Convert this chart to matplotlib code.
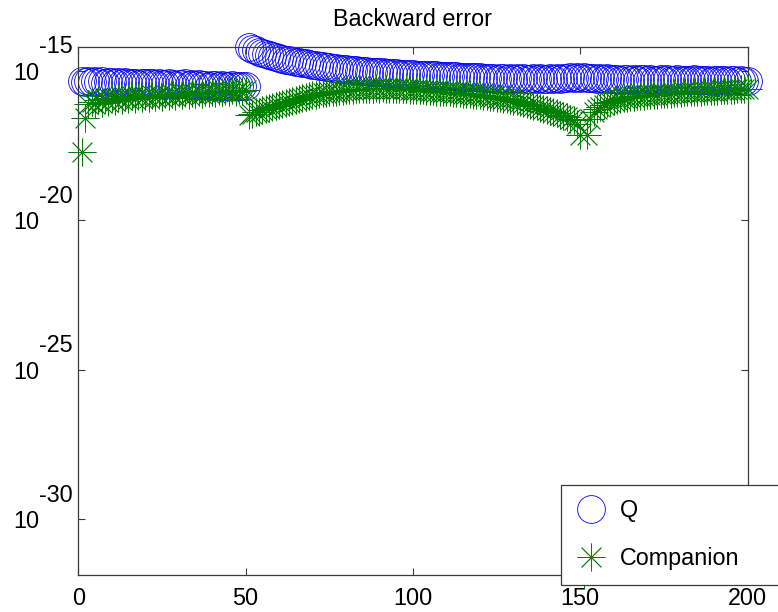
import numpy as np
import matplotlib
matplotlib.use("Agg")
import matplotlib.pyplot as plt
from matplotlib.ticker import FixedLocator, FuncFormatter, NullLocator

plt.rcParams['font.family'] = ['Liberation Sans', 'DejaVu Sans']

title = "Backward error"
series_names = ["Q", "Companion"]

# polynomial degree / test index
n = np.arange(1, 201)

# log10 of the backward error, Q-based method
q_log10 = [
    -15.35, -15.37, -15.34, -15.38, -15.36, -15.39, -15.35, -15.40, -15.37, -15.38,
    -15.41, -15.38, -15.42, -15.39, -15.40, -15.43, -15.41, -15.44, -15.40, -15.42,
    -15.43, -15.41, -15.45, -15.42, -15.44, -15.46, -15.43, -15.45, -15.47, -15.44,
    -15.46, -15.43, -15.47, -15.45, -15.48, -15.46, -15.49, -15.47, -15.50, -15.48,
    -15.49, -15.51, -15.48, -15.50, -15.52, -15.49, -15.51, -15.53, -15.50, -15.52,
    -14.21, -14.27, -14.32, -14.37, -14.41, -14.45, -14.48, -14.52, -14.55, -14.58,
    -14.61, -14.64, -14.66, -14.68, -14.70, -14.72, -14.74, -14.76, -14.78, -14.80,
    -14.82, -14.84, -14.86, -14.88, -14.89, -14.91, -14.92, -14.94, -14.95, -14.96,
    -14.97, -14.98, -14.99, -15.00, -15.01, -15.02, -15.03, -15.04, -15.05, -15.06,
    -15.06, -15.07, -15.08, -15.08, -15.09, -15.10, -15.10, -15.11, -15.12, -15.12,
    -15.13, -15.13, -15.14, -15.15, -15.15, -15.16, -15.16, -15.17, -15.17, -15.18,
    -15.18, -15.19, -15.19, -15.20, -15.20, -15.21, -15.21, -15.22, -15.22, -15.23,
    -15.24, -15.26, -15.25, -15.24, -15.27, -15.25, -15.26, -15.28, -15.25, -15.27,
    -15.26, -15.28, -15.25, -15.27, -15.29, -15.26, -15.28, -15.25, -15.27, -15.28,
    -15.26, -15.28, -15.25, -15.27, -15.24, -15.26, -15.23, -15.25, -15.22, -15.24,
    -15.23, -15.25, -15.24, -15.26, -15.27, -15.25, -15.28, -15.26, -15.29, -15.27,
    -15.28, -15.30, -15.27, -15.29, -15.31, -15.28, -15.30, -15.27, -15.29, -15.31,
    -15.28, -15.30, -15.32, -15.29, -15.31, -15.28, -15.30, -15.32, -15.29, -15.31,
    -15.33, -15.30, -15.32, -15.29, -15.31, -15.33, -15.30, -15.32, -15.34, -15.31,
    -15.33, -15.30, -15.32, -15.34, -15.31, -15.33, -15.35, -15.32, -15.34, -15.36,
]

# log10 of the backward error, companion matrix method
companion_log10 = [
    -17.73, -16.60, -16.10, -16.05, -16.12, -15.98, -16.08, -15.95, -16.04, -15.92,
    -16.02, -15.90, -15.99, -15.88, -15.96, -15.86, -15.94, -15.85, -15.92, -15.84,
    -15.90, -15.82, -15.89, -15.80, -15.87, -15.79, -15.85, -15.77, -15.84, -15.76,
    -15.82, -15.75, -15.81, -15.74, -15.79, -15.72, -15.78, -15.71, -15.76, -15.70,
    -15.75, -15.68, -15.73, -15.67, -15.72, -15.66, -15.70, -15.65, -15.68, -15.64,
    -16.49, -16.45, -16.40, -16.38, -16.33, -16.30, -16.26, -16.22, -16.19, -16.15,
    -16.12, -16.08, -16.05, -16.01, -15.98, -15.95, -15.91, -15.88, -15.85, -15.82,
    -15.80, -15.78, -15.76, -15.74, -15.73, -15.71, -15.70, -15.68, -15.67, -15.66,
    -15.65, -15.64, -15.63, -15.62, -15.62, -15.61, -15.60, -15.60, -15.59, -15.60,
    -15.59, -15.60, -15.61, -15.60, -15.61, -15.62, -15.62, -15.63, -15.64, -15.64,
    -15.65, -15.66, -15.66, -15.67, -15.68, -15.69, -15.70, -15.71, -15.72, -15.73,
    -15.73, -15.74, -15.75, -15.76, -15.77, -15.78, -15.79, -15.80, -15.81, -15.82,
    -15.84, -15.85, -15.87, -15.88, -15.90, -15.92, -15.94, -15.96, -15.98, -16.00,
    -16.03, -16.05, -16.08, -16.11, -16.14, -16.17, -16.20, -16.24, -16.27, -16.31,
    -16.35, -16.39, -16.43, -16.47, -16.52, -16.56, -16.61, -16.66, -16.80, -17.16,
    -31.86, -17.16, -16.62, -16.40, -16.30, -16.22, -16.15, -16.08, -16.04, -16.00,
    -15.97, -15.95, -15.93, -15.91, -15.89, -15.88, -15.86, -15.85, -15.84, -15.83,
    -15.82, -15.81, -15.80, -15.79, -15.78, -15.77, -15.77, -15.76, -15.75, -15.74,
    -15.73, -15.73, -15.72, -15.71, -15.71, -15.70, -15.69, -15.69, -15.68, -15.67,
    -15.67, -15.66, -15.66, -15.65, -15.65, -15.64, -15.63, -15.63, -15.62, -15.61,
]

x_ticks = [0, 50, 100, 150, 200]
y_tick_exponents = [-30, -25, -20, -15]

q_err = 10.0 ** np.array(q_log10)
comp_err = 10.0 ** np.array(companion_log10)

FS = 16.8

fig = plt.figure(figsize=(7.78, 6.12), dpi=100)
ax = fig.add_axes([0.1006, 0.0610, 0.8602, 0.8622])

ax.plot(n, q_err, linestyle='none', marker='o', markersize=20,
        markerfacecolor='none', markeredgecolor=(0, 0, 1), markeredgewidth=0.6,
        clip_on=False, label=series_names[0], zorder=2)
ax.plot(n, comp_err, linestyle='none', marker=(8, 2, 0), markersize=20,
        markeredgecolor=(0, 0.5, 0), markeredgewidth=0.6,
        clip_on=False, label=series_names[1], zorder=3)

ax.set_yscale('log')
ax.set_xlim(0, 200)
ax.set_ylim(comp_err.min(), q_err.max())

ax.xaxis.set_major_locator(FixedLocator(x_ticks))
ax.yaxis.set_major_locator(FixedLocator([10.0 ** e for e in y_tick_exponents]))
ax.yaxis.set_minor_locator(NullLocator())
ax.xaxis.set_minor_locator(NullLocator())
ax.yaxis.set_major_formatter(FuncFormatter(lambda v, p: "10"))

spine_color = '#3a3a3a'
for s in ax.spines.values():
    s.set_color(spine_color)
    s.set_linewidth(0.9)

ax.tick_params(axis='both', which='major', direction='in', length=5, width=0.8,
               color=spine_color, labelsize=FS, top=True, right=True)
ax.tick_params(axis='y', pad=28.3)
ax.tick_params(axis='x', pad=9)

# exponents written above and to the right of the "10"
for e in y_tick_exponents:
    ax.annotate(f"{e}", xy=(0, 10.0 ** e), xycoords=('axes fraction', 'data'),
                xytext=(-6, 24), textcoords='offset pixels',
                ha='right', va='center', fontsize=FS, annotation_clip=False)

ax.set_title(title, fontsize=FS, pad=15)

leg = ax.legend(loc='upper left', bbox_to_anchor=(561 / 778, 1 - 582 / 612, 0.30, 97 / 612),
                bbox_transform=fig.transFigure, mode='expand', fontsize=FS,
                frameon=True, fancybox=False, framealpha=1, borderaxespad=0,
                borderpad=0.62, handlelength=1.35, handletextpad=0.57,
                labelspacing=1.07, numpoints=1)
leg.get_frame().set_edgecolor(spine_color)
leg.get_frame().set_linewidth(0.9)

fig.savefig("out.png", dpi=100)
